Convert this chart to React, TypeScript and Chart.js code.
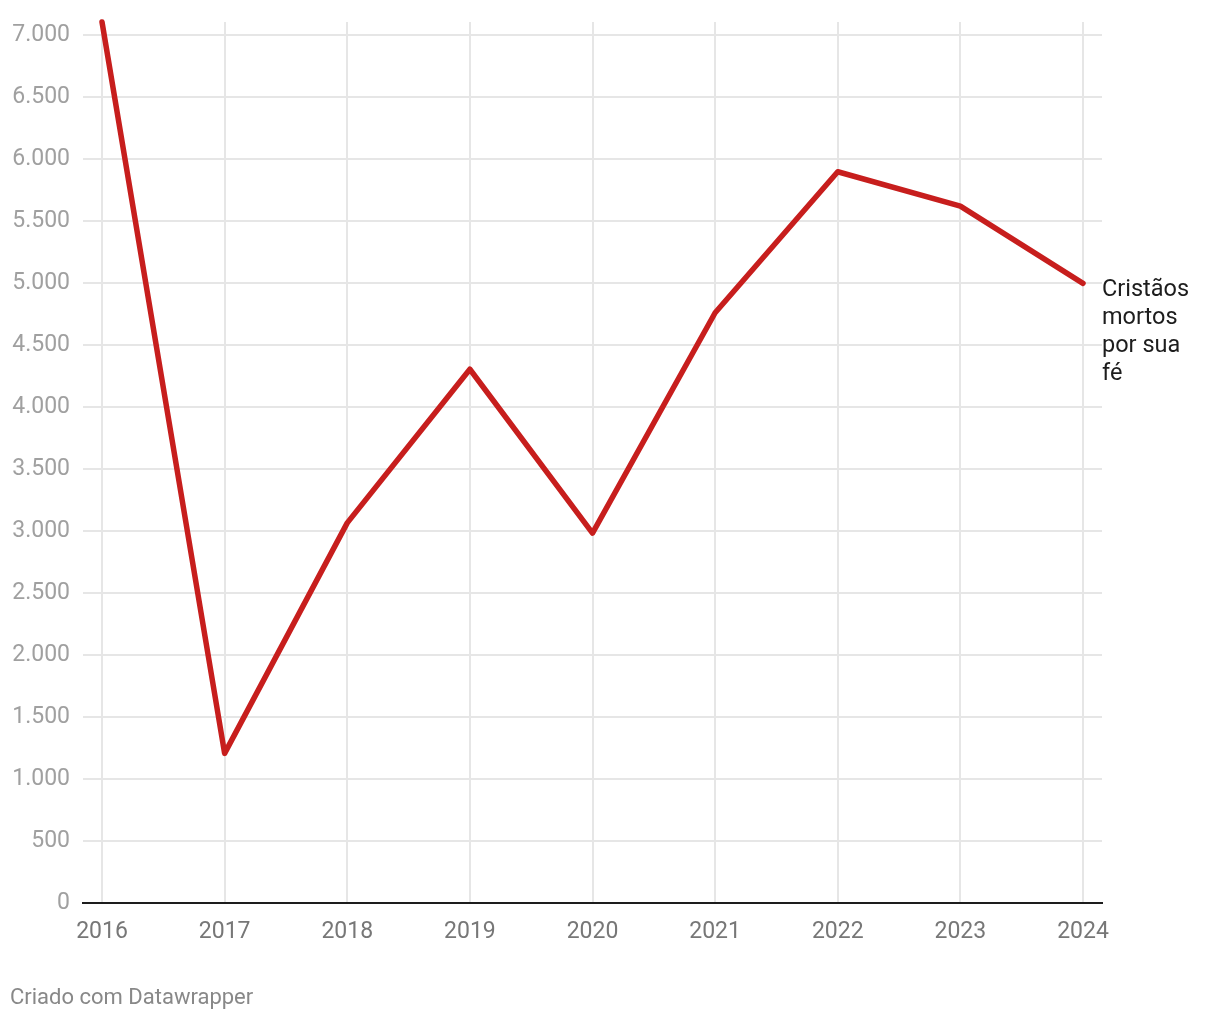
import React, { useEffect, useRef } from "react";
import { Chart, registerables } from "chart.js";

Chart.register(...registerables);

const years = [2016, 2017, 2018, 2019, 2020, 2021, 2022, 2023, 2024];
const killed = [7106, 1207, 3066, 4305, 2983, 4761, 5898, 5621, 4998];
const yTicks = [0, 500, 1000, 1500, 2000, 2500, 3000, 3500, 4000, 4500, 5000, 5500, 6000, 6500, 7000];
const seriesLabel = ["Cristãos", "mortos", "por sua", "fé"];
const credit = "Criado com Datawrapper";

const FONT = "Roboto, 'Noto Sans', sans-serif";

const fmt = (v: number) => v.toLocaleString("de-DE");

export default function App() {
  const ref = useRef<HTMLCanvasElement | null>(null);

  useEffect(() => {
    const canvas = ref.current;
    if (!canvas) return;
    const textPlugin = {
      id: "texts",
      afterDraw(chart: any) {
        const ctx = chart.ctx;
        const x = chart.scales.x;
        const y = chart.scales.y;
        ctx.save();
        ctx.font = `23.5px ${FONT}`;
        ctx.fillStyle = "#1d1d1d";
        ctx.textAlign = "left";
        ctx.textBaseline = "middle";
        const lastX = x.getPixelForValue(years[years.length - 1]);
        const lastY = y.getPixelForValue(killed[killed.length - 1]);
        seriesLabel.forEach((t, i) => {
          ctx.fillText(t, lastX + 19, lastY + 7 + i * 28);
        });
        ctx.font = `22px ${FONT}`;
        ctx.fillStyle = "#888888";
        ctx.fillText(credit, 10, 998);
        ctx.restore();
      },
    };
    const chart = new Chart(canvas, {
      type: "line",
      data: {
        datasets: [
          {
            data: years.map((yr, i) => ({ x: yr, y: killed[i] })),
            borderColor: "#c71e1d",
            borderWidth: 5.5,
            pointRadius: 0,
            borderCapStyle: "round",
            borderJoinStyle: "round",
            tension: 0,
            clip: 10,
          } as any,
        ],
      },
      options: {
        responsive: false,
        animation: false,
        layout: { padding: { top: 22, right: 118, left: 0, bottom: 0 } },
        plugins: { legend: { display: false }, tooltip: { enabled: false } },
        scales: {
          x: {
            type: "linear",
            min: 2015.845,
            max: 2024.155,
            afterBuildTicks: (s: any) => {
              s.ticks = years.map((v) => ({ value: v }));
            },
            afterFit: (s: any) => {
              s.height = 117;
              s.paddingLeft = 0;
              s.paddingRight = 0;
            },
            grid: { color: "#e6e6e6", lineWidth: 2, drawTicks: false },
            border: { display: true, color: "#1d1d1d", width: 2 },
            ticks: {
              padding: 15,
              color: "#777777",
              font: { family: FONT, size: 23 },
              callback: (v: any) => String(v),
              maxRotation: 0,
              autoSkip: false,
            },
          },
          y: {
            type: "linear",
            min: 0,
            max: 7106,
            afterBuildTicks: (s: any) => {
              s.ticks = yTicks.map((v) => ({ value: v }));
            },
            afterFit: (s: any) => {
              s.width = 83;
              s.paddingTop = 0;
              s.paddingBottom = 0;
            },
            grid: { color: "#e6e6e6", lineWidth: 2, drawTicks: false },
            border: { display: false },
            ticks: {
              padding: 13,
              color: "#a0a0a0",
              font: { family: FONT, size: 23 },
              callback: (v: any) => fmt(Number(v)),
            },
          },
        },
      } as any,
      plugins: [textPlugin],
    });
    return () => chart.destroy();
  }, []);

  return (
    <div style={{ position: "absolute", left: 0, top: 0, width: 1220, height: 1020, background: "#fff" }}>
      <canvas ref={ref} width={1220} height={1020} style={{ width: 1220, height: 1020, display: "block" }} />
    </div>
  );
}
